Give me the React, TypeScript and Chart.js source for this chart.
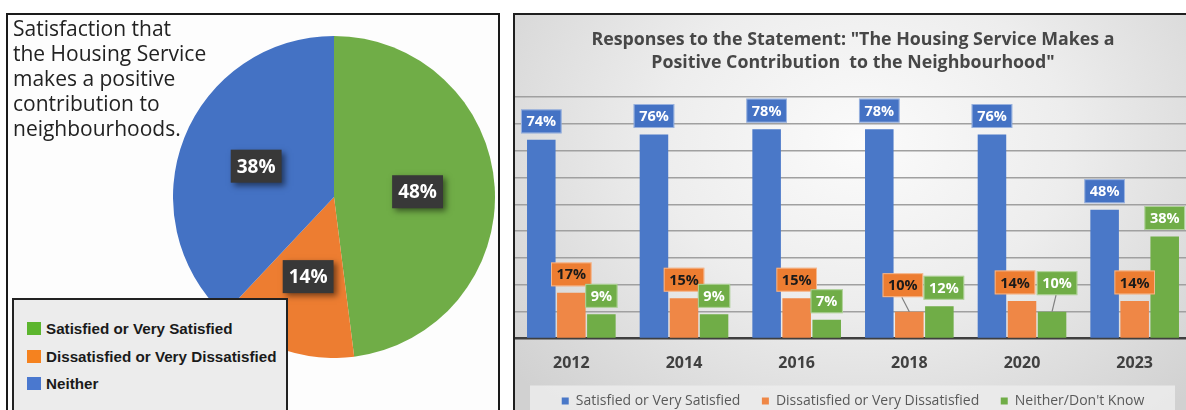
import { useEffect, useRef } from "react";
import { Chart, registerables } from "chart.js";

Chart.register(...registerables);

// ---------- Pie (left panel) ----------
const pieTitleLines = [
  "Satisfaction that",
  "the Housing Service",
  "makes a positive",
  "contribution to",
  "neighbourhoods.",
];
const pieLabels = [
  "Satisfied or Very Satisfied",
  "Dissatisfied or Very Dissatisfied",
  "Neither",
];
const pieValues = [48, 14, 38];
const pieColors = ["#70ad47", "#ed7d31", "#4472c4"];
const pieLegendColors = ["#5cb52e", "#f5821f", "#4a78cf"];

// ---------- Bars (right panel) ----------
const barTitle = [
  'Responses to the Statement: "The Housing Service Makes a',
  'Positive Contribution  to the Neighbourhood"',
];
const years = ["2012", "2014", "2016", "2018", "2020", "2023"];
const seriesNames = [
  "Satisfied or Very Satisfied",
  "Dissatisfied or Very Dissatisfied",
  "Neither/Don't Know",
];
const satisfied = [74, 76, 78, 78, 76, 48];
const dissatisfied = [17, 15, 15, 10, 14, 14];
const neither = [9, 9, 7, 12, 10, 38];
const yMax = 90;
const yStep = 10;

// styles
const barColors = ["#4a78c8", "#ef8746", "#70ad47"];
const labelFills = ["#4472c4", "#ed7d31", "#70ad47"];
const labelTextColors = ["#ffffff", "#1a1a1a", "#ffffff"];
const labelShiftX = [
  [0, 0, 0, 0, 0, 0],
  [0, 0, 0, -6.5, -7, 0],
  [0, 0, 0, 4.5, 5, 0],
];
const labelLift = [
  [0, 0, 0, 0, 0, 0],
  [0, 0, 0, 8, 0, 0],
  [0, 0, 0, 0, 10, 0],
];

const pieLabelPlugin = {
  id: "pieLabelBoxes",
  afterDatasetsDraw(chart: any) {
    const ctx = chart.ctx;
    const meta = chart.getDatasetMeta(0);
    const ds = chart.data.datasets[0];
    meta.data.forEach((arc: any, i: number) => {
      const p = arc.getProps(["x", "y", "startAngle", "endAngle", "outerRadius"], true);
      const mid = (p.startAngle + p.endAngle) / 2;
      const r = p.outerRadius * 0.52;
      const cx = p.x + Math.cos(mid) * r;
      const cy = p.y + Math.sin(mid) * r;
      const text = ds.data[i] + "%";
      ctx.save();
      ctx.font = 'bold 19px "Open Sans"';
      const w = ctx.measureText(text).width + 12;
      const h = 33;
      ctx.shadowColor = "rgba(0,0,0,0.5)";
      ctx.shadowBlur = 6;
      ctx.shadowOffsetX = 3;
      ctx.shadowOffsetY = 3;
      ctx.fillStyle = "#383838";
      ctx.fillRect(cx - w / 2, cy - h / 2, w, h);
      ctx.shadowColor = "transparent";
      ctx.fillStyle = "#ffffff";
      ctx.textAlign = "center";
      ctx.textBaseline = "middle";
      ctx.fillText(text, cx, cy + 1);
      ctx.restore();
    });
  },
};

const barLabelPlugin = {
  id: "barLabelBoxes",
  afterDatasetsDraw(chart: any) {
    const ctx = chart.ctx;
    chart.data.datasets.forEach((ds: any, i: number) => {
      const meta = chart.getDatasetMeta(i);
      meta.data.forEach((bar: any, j: number) => {
        const { x, y } = bar.getProps(["x", "y"], true);
        const text = ds.data[j] + "%";
        ctx.save();
        ctx.font = 'bold 14.5px "Open Sans"';
        const w = ctx.measureText(text).width + 11;
        const h = 24;
        const cx = x + labelShiftX[i][j];
        const bottom = y - 6.5 - labelLift[i][j];
        if (labelLift[i][j] > 0) {
          ctx.strokeStyle = "#808080";
          ctx.lineWidth = 1.2;
          ctx.beginPath();
          ctx.moveTo(cx - 1, bottom);
          ctx.lineTo(x, y);
          ctx.stroke();
        }
        ctx.fillStyle = labelFills[i];
        ctx.fillRect(cx - w / 2, bottom - h, w, h);
        ctx.strokeStyle = "rgba(255,255,255,0.45)";
        ctx.lineWidth = 1;
        ctx.strokeRect(cx - w / 2 + 0.5, bottom - h + 0.5, w - 1, h - 1);
        ctx.fillStyle = labelTextColors[i];
        ctx.textAlign = "center";
        ctx.textBaseline = "middle";
        ctx.fillText(text, cx, bottom - h / 2 + 1);
        ctx.restore();
      });
    });
  },
};

const legendBgPlugin = {
  id: "legendBackground",
  beforeDraw(chart: any) {
    const lg = chart.legend;
    if (!lg) return;
    const ctx = chart.ctx;
    ctx.save();
    ctx.fillStyle = "rgba(236,236,236,0.85)";
    ctx.fillRect(15, lg.top + 13, 645, 60);
    ctx.restore();
  },
};

export default function App() {
  const pieRef = useRef<HTMLCanvasElement>(null);
  const barRef = useRef<HTMLCanvasElement>(null);

  useEffect(() => {
    const pie = new Chart(pieRef.current as HTMLCanvasElement, {
      type: "pie",
      data: {
        labels: pieLabels,
        datasets: [
          {
            data: pieValues,
            backgroundColor: pieColors,
            borderWidth: 0,
          },
        ],
      },
      options: {
        animation: false,
        responsive: true,
        maintainAspectRatio: false,
        layout: { padding: 0 },
        plugins: {
          legend: { display: false },
          tooltip: { enabled: false },
          title: { display: false },
        },
      },
      plugins: [pieLabelPlugin],
    });

    const bar = new Chart(barRef.current as HTMLCanvasElement, {
      type: "bar",
      data: {
        labels: years,
        datasets: [satisfied, dissatisfied, neither].map((d, i) => ({
          label: seriesNames[i],
          data: d,
          backgroundColor: barColors[i],
          borderWidth: 0,
          barPercentage: 0.95,
          categoryPercentage: 0.8,
        })),
      },
      options: {
        animation: false,
        responsive: true,
        maintainAspectRatio: false,
        layout: { padding: 0 },
        scales: {
          x: {
            grid: { display: false, drawTicks: false },
            border: { display: true, color: "#3f3f3f", width: 2.5 },
            ticks: {
              padding: 15,
              color: "#404040",
              font: { family: "Open Sans", weight: "bold", size: 16 },
            },
            afterFit: (scale: any) => {
              scale.height = 34;
            },
          },
          y: {
            min: 0,
            max: yMax,
            ticks: { display: false, stepSize: yStep },
            grid: {
              drawTicks: false,
              lineWidth: 1.5,
              color: (c: any) => (c.tick && c.tick.value === 0 ? "rgba(0,0,0,0)" : "#a0a0a0"),
            },
            border: { display: false },
          },
        },
        plugins: {
          tooltip: { enabled: false },
          title: {
            display: true,
            text: barTitle,
            color: "#474747",
            font: { family: "Open Sans", weight: "bold", size: 17.8, lineHeight: 1.29 },
            padding: { top: 12.5, bottom: 22.5 },
          },
          legend: {
            position: "bottom",
            labels: {
              boxWidth: 7,
              boxHeight: 7,
              padding: 21.5,
              color: "#595959",
              font: { family: "Open Sans", size: 14 },
            },
          },
        },
      },
      plugins: [legendBgPlugin, barLabelPlugin],
    });

    return () => {
      pie.destroy();
      bar.destroy();
    };
  }, []);

  return (
    <div
      style={{
        position: "fixed",
        left: 0,
        top: 0,
        width: 1186,
        height: 410,
        overflow: "hidden",
        background: "#ffffff",
      }}
    >
      {/* Left panel */}
      <div
        style={{
          position: "absolute",
          left: 6,
          top: 13,
          width: 494,
          height: 430,
          border: "2px solid #1a1a1a",
          boxSizing: "border-box",
          background: "#fdfdfd",
        }}
      />
      <div style={{ position: "absolute", left: 173, top: 36, width: 322, height: 322 }}>
        <canvas ref={pieRef} />
      </div>
      <div
        style={{
          position: "absolute",
          left: 13,
          top: 16,
          fontFamily: '"Open Sans", sans-serif',
          fontSize: 21,
          lineHeight: "25px",
          color: "#222222",
          whiteSpace: "nowrap",
        }}
      >
        {pieTitleLines.map((l, i) => (
          <div key={i}>{l}</div>
        ))}
      </div>
      <div
        style={{
          position: "absolute",
          left: 12,
          top: 298,
          width: 276,
          height: 140,
          background: "#ececec",
          border: "2px solid #222222",
          boxSizing: "border-box",
        }}
      />
      {pieLabels.map((l, i) => (
        <div
          key={l}
          style={{
            position: "absolute",
            left: 27,
            top: 322 + i * 27.5,
            height: 13,
            display: "flex",
            alignItems: "center",
            whiteSpace: "nowrap",
          }}
        >
          <div style={{ width: 14, height: 13, background: pieLegendColors[i], marginRight: 5 }} />
          <span
            style={{
              fontFamily: '"Liberation Sans", Arial, sans-serif',
              fontWeight: "bold",
              fontSize: 15.2,
              color: "#1a1a1a",
            }}
          >
            {l}
          </span>
        </div>
      ))}

      {/* Right panel */}
      <div
        style={{
          position: "absolute",
          left: 513,
          top: 13,
          width: 700,
          height: 430,
          border: "2px solid #1f1f1f",
          boxSizing: "border-box",
          background:
            "radial-gradient(ellipse 65% 85% at 50% 30%, #fbfbfb 0%, #ededed 45%, #d1d1d1 100%)",
        }}
      />
      <div style={{ position: "absolute", left: 515, top: 16, width: 676, height: 402 }}>
        <canvas ref={barRef} />
      </div>
    </div>
  );
}
